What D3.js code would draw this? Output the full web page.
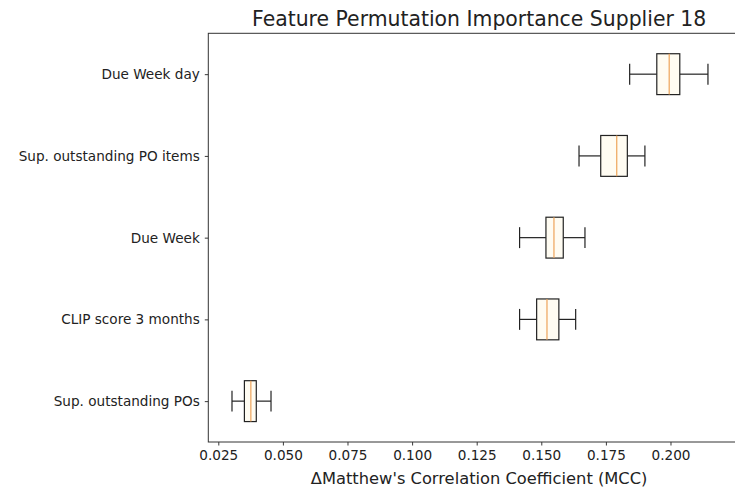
<!DOCTYPE html>
<html>
<head>
<meta charset="utf-8">
<script src="https://cdn.jsdelivr.net/npm/d3@7"></script>
<style>
  html, body { margin: 0; padding: 0; background: #fff; overflow: hidden; }
  svg { display: block; font-family: "DejaVu Sans", sans-serif; }
</style>
</head>
<body>
<svg id="chart" width="735" height="490"></svg>
<script>
// Features, bottom to top (boxplot positions 1..5)
const features = [
  "Sup. outstanding POs",
  "CLIP score 3 months",
  "Due Week",
  "Sup. outstanding PO items",
  "Due Week day"
];
// Box statistics per feature
const whiskerLow  = [0.0303, 0.1416, 0.1416, 0.1646, 0.1842];
const quart1      = [0.0351, 0.1482, 0.1518, 0.1730, 0.1947];
const medians     = [0.0376, 0.1522, 0.1549, 0.1792, 0.1995];
const quart3      = [0.0397, 0.1568, 0.1585, 0.1833, 0.2036];
const whiskerHigh = [0.0454, 0.1633, 0.1669, 0.1901, 0.2145];
const xTicks = [0.025, 0.050, 0.075, 0.100, 0.125, 0.150, 0.175, 0.200];

const svg = d3.select("#chart");
// the axes box runs past the right edge of the figure
const plotLeft = 208.3, plotRight = 750, plotTop = 33.3, plotBottom = 442;
const tickFont = 13.6, labelFont = 16.3, titleFont = 20.4;
const ink = "#222";

const x = d3.scaleLinear().domain([0.02113, 0.23077]).range([plotLeft, plotRight]);
const y = d3.scaleLinear().domain([0.5, 5.5]).range([plotBottom, plotTop]);
const boxH = y(1) - y(1.5);   // box width of 0.5 in position units
const capH = boxH * 0.5 + 0.5;

const data = features.map((f, i) => ({
  name: f, pos: i + 1,
  lo: whiskerLow[i], q1: quart1[i], med: medians[i], q3: quart3[i], hi: whiskerHigh[i]
}));

// Axes
const xAxis = d3.axisBottom(x).tickValues(xTicks).tickFormat(d3.format(".3f")).tickSize(3.5).tickPadding(4.5);
const gx = svg.append("g").attr("transform", `translate(0,${plotBottom})`).call(xAxis);
gx.select(".domain").remove();
gx.selectAll("text").attr("font-size", tickFont).attr("fill", ink).attr("font-family", "DejaVu Sans");
gx.selectAll("line").attr("stroke", ink).attr("stroke-width", 0.9);

const yAxis = d3.axisLeft(y).tickValues(data.map(d => d.pos)).tickFormat(d => features[d - 1]).tickSize(3.5).tickPadding(5);
const gy = svg.append("g").attr("transform", `translate(${plotLeft},0)`).call(yAxis);
gy.select(".domain").remove();
gy.selectAll("text").attr("font-size", tickFont).attr("fill", ink).attr("font-family", "DejaVu Sans");
gy.selectAll("line").attr("stroke", ink).attr("stroke-width", 0.9);

// Frame
svg.append("rect")
  .attr("x", plotLeft).attr("y", plotTop)
  .attr("width", plotRight - plotLeft).attr("height", plotBottom - plotTop)
  .attr("fill", "none").attr("stroke", "#333").attr("stroke-width", 1);

// Boxes
const boxes = svg.append("g").selectAll("g.box").data(data).join("g").attr("class", "box");

const seg = (x1, x2, y1, y2, color) => boxes.append("line")
  .attr("x1", x1).attr("x2", x2).attr("y1", y1).attr("y2", y2)
  .attr("stroke", color).attr("stroke-width", 1.2);

seg(d => x(d.lo), d => x(d.q1), d => y(d.pos), d => y(d.pos), ink);
seg(d => x(d.q3), d => x(d.hi), d => y(d.pos), d => y(d.pos), ink);
seg(d => x(d.lo), d => x(d.lo), d => y(d.pos) - capH / 2, d => y(d.pos) + capH / 2, ink);
seg(d => x(d.hi), d => x(d.hi), d => y(d.pos) - capH / 2, d => y(d.pos) + capH / 2, ink);
boxes.append("rect")
  .attr("x", d => x(d.q1)).attr("width", d => x(d.q3) - x(d.q1))
  .attr("y", d => y(d.pos) - boxH / 2).attr("height", boxH)
  .attr("fill", "#fffcf2").attr("stroke", ink).attr("stroke-width", 1.2);
seg(d => x(d.med), d => x(d.med), d => y(d.pos) - boxH / 2, d => y(d.pos) + boxH / 2, "#eea45a");

// Title and axis label
svg.append("text")
  .attr("x", (plotLeft + plotRight) / 2).attr("y", 26)
  .attr("text-anchor", "middle").attr("font-size", titleFont).attr("fill", ink)
  .text("Feature Permutation Importance Supplier 18");
svg.append("text")
  .attr("x", (plotLeft + plotRight) / 2).attr("y", 484)
  .attr("text-anchor", "middle").attr("font-size", labelFont).attr("fill", ink)
  .text("\u0394Matthew's Correlation Coefficient (MCC)");
</script>
</body>
</html>
